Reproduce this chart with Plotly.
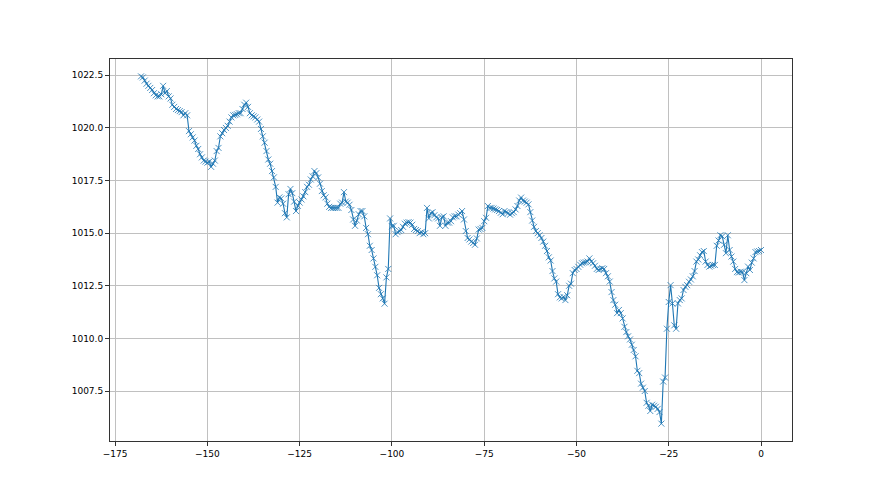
import numpy as np
import plotly.graph_objects as go

# Pressure readings every half hour, from -168 h to 0 h
pressure = [
    1022.45, 1022.4, 1022.25, 1022.1, 1022.0, 1021.9, 1021.8, 1021.65, 1021.55, 1021.5,
    1021.5, 1021.6, 1022.0, 1021.65, 1021.75, 1021.5, 1021.4, 1021.1, 1021.0, 1020.9,
    1020.85, 1020.8, 1020.75, 1020.6, 1020.7, 1020.6, 1019.85, 1019.7, 1019.55, 1019.4,
    1019.15, 1019.0, 1018.75, 1018.6, 1018.45, 1018.4, 1018.35, 1018.4, 1018.15, 1018.3,
    1018.45, 1018.9, 1019.05, 1019.6, 1019.75, 1019.9, 1020.0, 1020.1, 1020.3, 1020.5,
    1020.6, 1020.62, 1020.65, 1020.7, 1020.7, 1020.9, 1021.1, 1021.2, 1021.0, 1020.7,
    1020.6, 1020.55, 1020.5, 1020.4, 1020.3, 1019.95, 1019.6, 1019.3, 1018.9, 1018.5,
    1018.3, 1017.95, 1017.65, 1017.2, 1016.45, 1016.7, 1016.65, 1016.4, 1015.95, 1015.75,
    1016.85, 1017.1, 1016.9, 1016.5, 1016.05, 1016.3, 1016.45, 1016.6, 1016.75, 1016.95,
    1017.2, 1017.3, 1017.55, 1017.7, 1017.95, 1017.85, 1017.65, 1017.35, 1017.0, 1016.8,
    1016.7, 1016.4, 1016.25, 1016.2, 1016.2, 1016.2, 1016.2, 1016.2, 1016.4, 1016.45,
    1016.95, 1016.5, 1016.45, 1016.35, 1016.1, 1015.65, 1015.35, 1015.6, 1015.9, 1016.05,
    1016.05, 1015.8, 1015.25, 1014.95, 1014.4, 1014.2, 1013.8, 1013.4, 1013.0, 1012.4,
    1012.1, 1011.9, 1011.65, 1012.9, 1013.3, 1015.7, 1015.33, 1015.35, 1014.95, 1015.05,
    1015.1, 1015.15, 1015.3, 1015.45, 1015.5, 1015.52, 1015.5, 1015.4, 1015.2, 1015.15,
    1015.1, 1015.0, 1015.05, 1014.95, 1015.0, 1016.2, 1015.7, 1015.95, 1016.0, 1015.85,
    1015.75, 1015.7, 1015.35, 1015.75, 1015.8, 1015.35, 1015.5, 1015.5, 1015.57, 1015.75,
    1015.8, 1015.8, 1015.88, 1015.95, 1016.05, 1015.65, 1015.1, 1014.77, 1014.7, 1014.6,
    1014.53, 1014.45, 1014.75, 1015.17, 1015.2, 1015.25, 1015.57, 1015.73, 1016.29, 1016.2,
    1016.2, 1016.17, 1016.13, 1016.1, 1016.05, 1015.97, 1015.9, 1016.05, 1016.0, 1015.95,
    1015.88, 1015.95, 1016.0, 1016.13, 1016.29, 1016.55, 1016.69, 1016.55, 1016.5, 1016.45,
    1016.37, 1016.0, 1015.6, 1015.3, 1015.1, 1015.0, 1014.9, 1014.77, 1014.6, 1014.4,
    1014.15, 1013.85, 1013.7, 1013.2, 1012.85, 1012.7, 1012.1, 1011.95, 1011.9, 1011.97,
    1011.82, 1012.05, 1012.5, 1012.6, 1013.1, 1013.25, 1013.3, 1013.4, 1013.5, 1013.57,
    1013.6, 1013.62, 1013.65, 1013.8, 1013.65, 1013.57, 1013.45, 1013.3, 1013.25, 1013.3,
    1013.33, 1013.3, 1013.1, 1012.95, 1012.7, 1012.2, 1011.82, 1011.6, 1011.2, 1011.35,
    1011.2, 1010.95, 1010.55, 1010.3, 1010.1, 1009.95, 1009.7, 1009.45, 1009.15, 1008.46,
    1008.35, 1007.85, 1007.66, 1007.5, 1006.94, 1006.8, 1006.55, 1006.85, 1006.8, 1006.75,
    1006.65, 1006.5, 1005.95, 1007.95, 1008.14, 1010.46, 1011.73, 1012.53, 1011.66, 1010.62,
    1010.46, 1011.66, 1011.82, 1011.9, 1012.3, 1012.45, 1012.53, 1012.69, 1012.8, 1012.95,
    1013.2, 1013.65, 1013.75, 1013.95, 1014.1, 1014.15, 1013.65, 1013.49, 1013.41, 1013.45,
    1013.49, 1013.49, 1014.4, 1014.65, 1014.9, 1014.85, 1014.45, 1014.05, 1014.9, 1014.2,
    1013.89, 1013.65, 1013.3, 1013.15, 1013.13, 1013.17, 1013.15, 1012.77, 1013.1, 1013.41,
    1013.25, 1013.6, 1013.8, 1014.1, 1014.13, 1014.15, 1014.2,
]
hours = np.arange(-168, 0.25, 0.5)
assert len(hours) == len(pressure), (len(hours), len(pressure))

x_ticks = [-175, -150, -125, -100, -75, -50, -25, 0]
y_ticks = [1007.5, 1010.0, 1012.5, 1015.0, 1017.5, 1020.0, 1022.5]

color = "#1f77b4"
fig = go.Figure(go.Scatter(
    x=hours, y=pressure, mode="lines+markers",
    line=dict(color=color, width=1.1),
    marker=dict(symbol="x-thin", size=6, line=dict(color=color, width=0.8)),
))

xpad = 0.05 * (hours.max() - hours.min())
ypad = 0.05 * (max(pressure) - min(pressure))
axis_common = dict(
    showgrid=True, gridcolor="#c0c0c0", gridwidth=0.8,
    showline=True, linecolor="#333333", linewidth=1, mirror=True,
    ticks="outside", ticklen=4, tickcolor="#333333", tickwidth=1,
    zeroline=False, tickfont=dict(family="DejaVu Sans", size=9, color="black"),
)
fig.update_xaxes(range=[hours.min() - xpad, hours.max() + xpad],
                 tickvals=x_ticks, ticktext=[f"{v:g}".replace("-", "\u2212") for v in x_ticks],
                 **axis_common)
fig.update_yaxes(range=[min(pressure) - ypad, max(pressure) + ypad],
                 tickvals=y_ticks, ticktext=[f"{v:.1f}" for v in y_ticks],
                 **axis_common)
fig.update_layout(
    width=880, height=495,
    margin=dict(l=102, r=96, t=51, b=62),
    paper_bgcolor="white", plot_bgcolor="white",
    showlegend=False,
)
fig.write_html("out.html")
